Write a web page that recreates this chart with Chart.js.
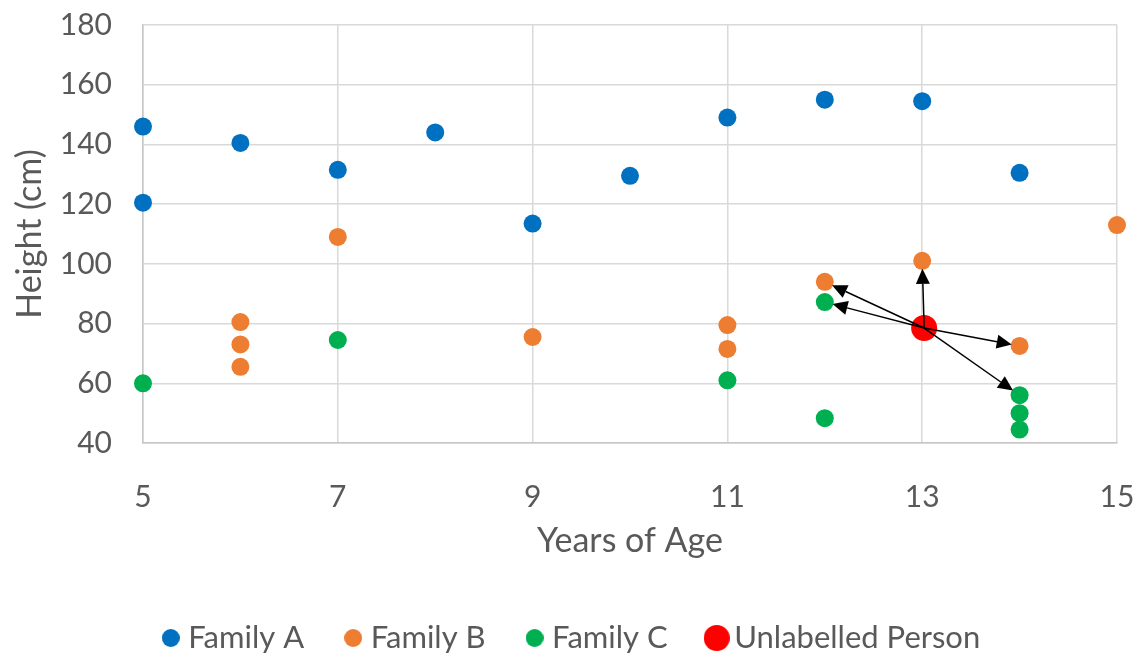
<!DOCTYPE html>
<html>
<head>
<meta charset="utf-8">
<script src="https://cdn.jsdelivr.net/npm/chart.js@4/dist/chart.umd.min.js"></script>
<style>
  html, body { margin: 0; padding: 0; background: #fff; }
  #wrap { width: 1139px; height: 654px; }
</style>
</head>
<body>
<div id="wrap"><canvas id="heights"></canvas></div>
<script>
// values
var familyAAges    = [5, 5, 6, 7, 8, 9, 10, 11, 12, 13, 14];
var familyAHeights = [146, 120.5, 140.5, 131.5, 144, 113.5, 129.5, 149, 155, 154.5, 130.5];

var familyBAges    = [6, 6, 6, 7, 9, 11, 11, 12, 13, 14, 15];
var familyBHeights = [80.5, 73, 65.5, 109, 75.5, 79.5, 71.5, 94, 101, 72.5, 113];

var familyCAges    = [5, 7, 11, 12, 12, 14, 14, 14];
var familyCHeights = [60, 74.5, 61, 87.2, 48.3, 56, 50, 44.5];

var unlabelledAge = [13.02];
var unlabelledHeight = [78.5];

// neighbours the arrows point at (age, height)
var neighbourAges    = [12, 12, 13, 14, 14];
var neighbourHeights = [94, 87.2, 101, 72.5, 56];

var xTicks = [5, 7, 9, 11, 13, 15];
var yTicks = [40, 60, 80, 100, 120, 140, 160, 180];

var labels = ['Family A', 'Family B', 'Family C', 'Unlabelled Person'];
var colors = ['#0070C0', '#ED7D31', '#00B050', '#FF0000'];

function toPoints(xs, ys) {
    var pts = [];
    for (var i = 0; i < xs.length; i++) {
        pts.push({ x: xs[i], y: ys[i] });
    }
    return pts;
}

function dotImage(color, size) {
    var c = document.createElement('canvas');
    c.width = size;
    c.height = size;
    var g = c.getContext('2d');
    g.fillStyle = color;
    g.beginPath();
    g.arc(size / 2, size / 2, size / 2, 0, Math.PI * 2);
    g.fill();
    return c;
}

var legendDots = [dotImage(colors[0], 18), dotImage(colors[1], 18), dotImage(colors[2], 18), dotImage(colors[3], 26)];

var textColor = '#595959';
var gridColor = '#d9d9d9';

var arrows = {
    id: 'arrows',
    afterDatasetsDraw: function(chart) {
        var ctx = chart.ctx;
        var xs = chart.scales.x, ys = chart.scales.y;
        var ox = xs.getPixelForValue(unlabelledAge[0]);
        var oy = ys.getPixelForValue(unlabelledHeight[0]);
        ctx.save();
        ctx.strokeStyle = '#000';
        ctx.fillStyle = '#000';
        ctx.lineWidth = 1.5;
        for (var i = 0; i < neighbourAges.length; i++) {
            var tx = xs.getPixelForValue(neighbourAges[i]);
            var ty = ys.getPixelForValue(neighbourHeights[i]);
            var ang = Math.atan2(ty - oy, tx - ox);
            var len = Math.hypot(tx - ox, ty - oy) - 8;
            var ex = ox + Math.cos(ang) * len;
            var ey = oy + Math.sin(ang) * len;
            var head = 15, half = 7;
            var bx = ex - Math.cos(ang) * head;
            var by = ey - Math.sin(ang) * head;
            ctx.beginPath();
            ctx.moveTo(ox, oy);
            ctx.lineTo(bx, by);
            ctx.stroke();
            ctx.beginPath();
            ctx.moveTo(ex, ey);
            ctx.lineTo(bx + Math.sin(ang) * half, by - Math.cos(ang) * half);
            ctx.lineTo(bx - Math.sin(ang) * half, by + Math.cos(ang) * half);
            ctx.closePath();
            ctx.fill();
        }
        ctx.restore();
    }
};

new Chart(document.getElementById('heights'), {
    type: 'scatter',
    data: {
        datasets: [
            { label: labels[0], data: toPoints(familyAAges, familyAHeights), backgroundColor: colors[0], pointRadius: 9, borderWidth: 0, clip: false },
            { label: labels[1], data: toPoints(familyBAges, familyBHeights), backgroundColor: colors[1], pointRadius: 9, borderWidth: 0, clip: false },
            { label: labels[2], data: toPoints(familyCAges, familyCHeights), backgroundColor: colors[2], pointRadius: 9, borderWidth: 0, clip: false },
            { label: labels[3], data: toPoints(unlabelledAge, unlabelledHeight), backgroundColor: colors[3], pointRadius: 13, borderWidth: 0, clip: false }
        ]
    },
    options: {
        responsive: true,
        maintainAspectRatio: false,
        animation: false,
        layout: { padding: { top: 25, right: 0, left: 10, bottom: 0 } },
        plugins: {
            tooltip: { enabled: false },
            legend: {
                position: 'bottom',
                maxHeight: 78.5,
                labels: {
                    usePointStyle: true,
                    boxWidth: 4,
                    padding: 47,
                    color: textColor,
                    font: { family: 'Lato', size: 31 },
                    generateLabels: function(chart) {
                        return labels.map(function(t, i) {
                            return { text: t, pointStyle: legendDots[i], fillStyle: colors[i], strokeStyle: colors[i], lineWidth: 0, fontColor: textColor, datasetIndex: i, hidden: false };
                        });
                    }
                }
            }
        },
        scales: {
            x: {
                type: 'linear',
                min: 5,
                max: 15,
                afterFit: function(scale) {
                    scale.height = 132.5;
                    scale.paddingLeft = 0;
                    scale.paddingRight = 22;
                },
                afterBuildTicks: function(scale) { scale.ticks = xTicks.map(function(v) { return { value: v }; }); },
                grid: { color: gridColor, lineWidth: 1.5, drawTicks: false },
                border: { color: '#c6c6c6', width: 1.5 },
                ticks: { color: textColor, font: { family: 'Lato', size: 30 }, padding: 36 },
                title: { display: true, text: 'Years of Age', color: textColor, font: { family: 'Lato', size: 34, lineHeight: 1 }, padding: { top: 0, bottom: 17.5 } }
            },
            y: {
                min: 40,
                max: 180,
                afterFit: function(scale) {
                    scale.width = 133;
                    scale.paddingTop = 0;
                    scale.paddingBottom = 0;
                },
                afterBuildTicks: function(scale) { scale.ticks = yTicks.map(function(v) { return { value: v }; }); },
                grid: { color: gridColor, lineWidth: 1.5, drawTicks: false },
                border: { color: '#c6c6c6', width: 1.5 },
                ticks: { color: textColor, font: { family: 'Lato', size: 30 }, padding: 31 },
                title: { display: true, text: 'Height (cm)', color: textColor, font: { family: 'Lato', size: 34 }, padding: { top: 0, bottom: 0 } }
            }
        }
    },
    plugins: [arrows]
});
</script>
</body>
</html>
